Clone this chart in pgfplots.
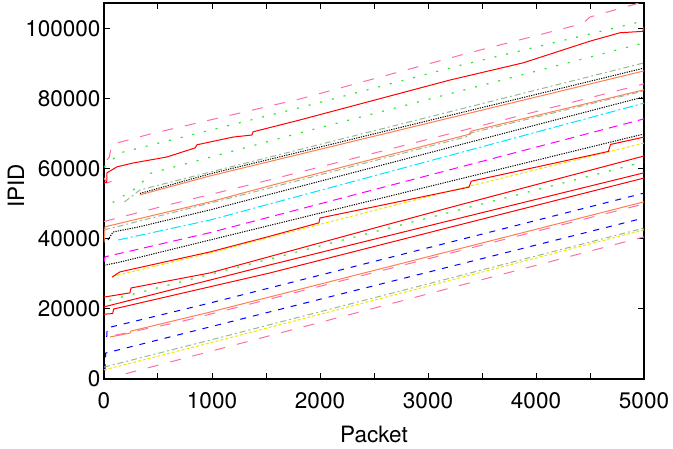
\documentclass[border=0pt]{standalone}
\usepackage{pgfplots}
\pgfplotsset{compat=1.18}
\usepackage{fontspec}
\setmainfont{TeX Gyre Heros}
\usetikzlibrary{calc}
\definecolor{cpink}{RGB}{255,110,170}
\definecolor{cgreen}{RGB}{40,230,40}
\definecolor{cgray}{RGB}{150,185,150}
\definecolor{corange}{RGB}{255,127,80}
\definecolor{ccyan}{RGB}{0,230,255}
\definecolor{cmag}{RGB}{255,0,255}
\definecolor{cyel}{RGB}{240,230,0}
\definecolor{cblue}{RGB}{0,0,255}
\definecolor{cred}{RGB}{255,0,0}
\tikzset{
  pk/.style={cpink, line width=1pt, dash pattern=on 11pt off 12pt},
  gr/.style={cgreen, line width=1.2pt, dash pattern=on 2pt off 10pt},
  gy/.style={cgray, line width=1pt, dash pattern=on 6pt off 3pt on 2pt off 3pt},
  bk/.style={black, line width=1pt, dash pattern=on 1.2pt off 1.2pt},
  og/.style={corange, line width=1pt},
  cy/.style={ccyan, line width=1pt, dash pattern=on 10pt off 3pt on 2pt off 3pt},
  mg/.style={cmag, line width=1pt, dash pattern=on 9pt off 6pt},
  yl/.style={cyel, line width=1pt, dash pattern=on 3pt off 2pt},
  bl/.style={cblue, line width=1pt, dash pattern=on 6pt off 7pt},
  rd/.style={cred, line width=1pt},
}
\begin{document}
\begin{tikzpicture}
\begin{axis}[
  scale only axis, width=540pt, height=376pt,
  xmin=0, xmax=5000, ymin=0, ymax=107400,
  xtick={0,1000,2000,3000,4000,5000},
  xticklabels={0,1000,2000,3000,4000,5000},
  minor xtick={500,1500,2500,3500,4500},
  ytick={0,20000,40000,60000,80000,100000},
  yticklabels={0,20000,40000,60000,80000,100000},
  tick align=inside, major tick length=6pt, minor tick length=6pt,
  tick style={black, line width=1pt},
  axis line style={line width=1.3pt},
  ticklabel style={font=\fontsize{22.5}{26}\selectfont},
  xticklabel style={yshift=-10pt},
  label style={font=\fontsize{22.5}{26}\selectfont},
  xlabel={Packet}, ylabel={IPID},
  xlabel style={at={([yshift=-55pt]axis description cs:0.5,0)}, anchor=center},
  ylabel style={at={([xshift=-88pt,yshift=5pt]axis description cs:0,0.5)}, anchor=center},
  no markers,
]
% pink A
\addplot[pk] coordinates {(28,62600)(50,63400)(70,67000)(430,70000)(1815,80000)(3300,92500)(4430,101500)(4500,103400)(5000,107800)};
% pink hook
\addplot[pk] coordinates {(0,57500)(25,56000)(120,57000)};
% green A
\addplot[gr] coordinates {(0,60500)(148,64600)(1800,77400)(3300,89600)(5000,102300)};
% red A
\addplot[rd] coordinates {(0,56000)(25,56200)(28,58900)(120,60600)(270,61700)(580,63400)(843,66000)(861,66900)(1194,69100)(1370,69700)(1380,70600)(1815,74000)(3204,85400)(3880,90300)(4250,94000)(4500,96500)(4778,98900)(4990,99300)(5000,100600)};
% green B
\addplot[gr] coordinates {(80,50400)(315,54900)(426,58700)(1815,70300)(5000,96000)};
% gray A
\addplot[gy] coordinates {(190,50600)(333,54000)(981,59100)(5000,90300)};
% black A
\addplot[bk] coordinates {(333,53000)(981,58600)(5000,88800)};
% orange A
\addplot[og] coordinates {(333,52600)(981,58000)(5000,88000)};
% pink B
\addplot[pk] coordinates {(0,45000)(590,49700)(1537,56900)(5000,84300)};
% orange B
\addplot[og] coordinates {(0,39000)(9,43400)(40,43700)(981,50600)(1537,55200)(3380,69900)(3400,70800)(5000,82600)};
% gray B
\addplot[gy] coordinates {(0,42600)(56,43000)(1537,54600)(3380,69400)(3400,70300)(5000,82300)};
% black B
\addplot[bk] coordinates {(37,39700)(83,42000)(315,43400)(981,48300)(5000,80600)};
% cyan
\addplot[cy] coordinates {(130,39700)(981,45400)(5000,78800)};
% magenta
\addplot[mg] coordinates {(0,33500)(10,34900)(981,41800)(5000,74300)};
% black C
\addplot[bk] coordinates {(0,28300)(5,32500)(148,33400)(981,39700)(5000,70000)};
% yellow A
\addplot[yl] coordinates {(80,29300)(981,36000)(1537,40500)(3204,53700)(5000,67400)};
% red B
\addplot[rd] coordinates {(74,29100)(148,30600)(981,36300)(1537,40800)(1990,44600)(2000,46000)(3380,54800)(3400,56500)(4670,65000)(4690,67000)(5000,69100)};
% red C
\addplot[rd] coordinates {(0,23400)(240,24600)(250,26000)(981,30300)(1537,35000)(3204,49000)(5000,63700)};
% green C
\addplot[gr] coordinates {(50,22500)(1537,34300)(5000,62000)};
% red D
\addplot[rd] coordinates {(0,20600)(1537,32600)(5000,58900)};
% red E
\addplot[rd] coordinates {(0,18500)(80,18700)(90,20000)(1537,30300)(5000,57400)};
% blue A
\addplot[bl] coordinates {(25,12000)(30,14600)(981,21700)(5000,53100)};
% orange C
\addplot[og] coordinates {(55,12000)(240,13100)(250,13700)(981,19100)(5000,50600)};
% pink C
\addplot[pk] coordinates {(100,12500)(700,16300)(5000,50000)};
% blue B
\addplot[bl] coordinates {(10,2500)(15,7400)(5000,46000)};
% gray C
\addplot[gy] coordinates {(0,3400)(981,11100)(5000,43100)};
% yellow B
\addplot[yl] coordinates {(0,2600)(981,10300)(5000,42600)};
% pink D
\addplot[pk] coordinates {(200,1500)(5000,40600)};
\end{axis}
\pgfresetboundingbox
\path ($(current axis.south west)+(-104pt,-69pt)$) rectangle ($(current axis.north east)+(29pt,3pt)$);
\end{tikzpicture}
\end{document}
